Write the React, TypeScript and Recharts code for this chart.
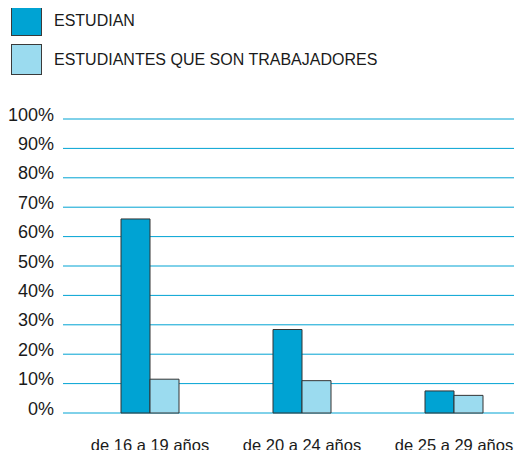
import React from 'react';
import { BarChart, Bar, XAxis, YAxis, CartesianGrid, Legend } from 'recharts';

const categories = ['de 16 a 19 años', 'de 20 a 24 años', 'de 25 a 29 años'];
const estudian = [66, 28.4, 7.5];
const trabajadores = [11.5, 11, 6];
const yTicks = [0, 10, 20, 30, 40, 50, 60, 70, 80, 90, 100];

const DARK = '#00a3d3';
const LIGHT = '#9bdbef';
const FONT = '"Liberation Sans", Arial, Helvetica, sans-serif';

const data = categories.map((c, i) => ({
  name: c,
  estudian: estudian[i],
  trabajadores: trabajadores[i],
}));

const LegendContent = ({ payload }: any) => (
  <div style={{ fontFamily: FONT }}>
    {(payload || []).map((p: any, i: number) => (
      <div
        key={i}
        style={{ display: 'flex', alignItems: 'center', height: 31, marginBottom: i === 0 ? 8 : 0 }}
      >
        <div
          style={{
            width: 31,
            height: 31,
            boxSizing: 'border-box',
            background: p.color,
            border: '1.5px solid #3a3a3a',
          }}
        />
        <span style={{ marginLeft: 12, fontSize: 16, color: '#1a1a1a' }}>{p.value}</span>
      </div>
    ))}
  </div>
);

const YTick = ({ x, y, payload }: any) => (
  <text x={x} y={y} dy={1.5} textAnchor="end" fontSize={18} fill="#1a1a1a" fontFamily={FONT}>
    {`${payload.value}%`}
  </text>
);

const App: React.FC = () => {
  return (
    <div style={{ margin: -8, width: 522, height: 458, overflow: 'hidden', position: 'relative' }}>
      <BarChart
        width={530}
        height={458}
        data={data}
        margin={{ top: 119, right: 0, bottom: 0, left: 0 }}
        barGap={0}
        barSize={29}
      >
        <CartesianGrid vertical={false} stroke={DARK} strokeWidth={1} />
        <XAxis
          dataKey="name"
          axisLine={false}
          tickLine={false}
          tickSize={0}
          tickMargin={26}
          height={45}
          padding={{ left: 11, right: 0 }}
          interval={0}
          tick={{ fontSize: 16.5, fill: '#1a1a1a', fontFamily: FONT }}
        />
        <YAxis
          domain={[0, 100]}
          ticks={yTicks}
          width={63}
          axisLine={false}
          tickLine={false}
          tickSize={0}
          tickMargin={9}
          interval={0}
          tick={<YTick />}
        />
        <Legend
          layout="vertical"
          align="center"
          verticalAlign="middle"
          wrapperStyle={{ top: 5, left: 11, width: 400 }}
          content={<LegendContent />}
        />
        <Bar dataKey="estudian" name="ESTUDIAN" fill={DARK} stroke="#333" strokeWidth={1} isAnimationActive={false} />
        <Bar dataKey="trabajadores" name="ESTUDIANTES QUE SON TRABAJADORES" fill={LIGHT} stroke="#333" strokeWidth={1} isAnimationActive={false} />
      </BarChart>
    </div>
  );
};

export default App;
